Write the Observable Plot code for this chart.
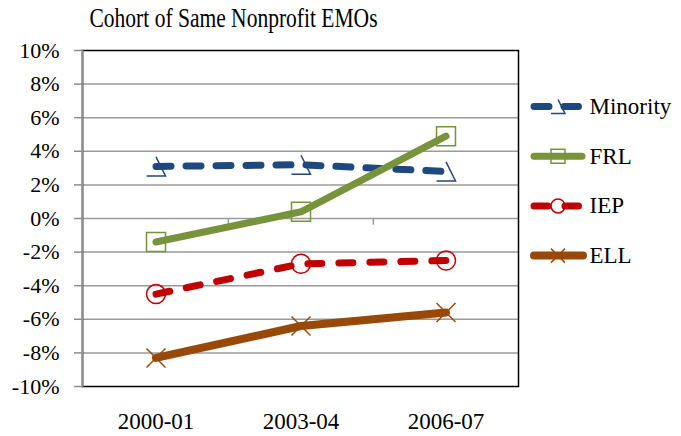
<!DOCTYPE html>
<html><head><meta charset="utf-8">
<script src="https://cdn.jsdelivr.net/npm/d3@7"></script>
<script src="https://cdn.jsdelivr.net/npm/@observablehq/plot@0.6"></script>
<style>html,body{margin:0;padding:0;background:#fff}</style>
</head><body><div id="chart"></div>
<script>
const title = "Cohort of Same Nonprofit EMOs";
const categories = ["2000-01", "2003-04", "2006-07"];
const seriesNames = ["Minority", "FRL", "IEP", "ELL"];
const minority = [3.1, 3.2, 2.8];
const frl = [-1.4, 0.4, 4.9];
const iep = [-4.5, -2.7, -2.5];
const ell = [-8.3, -6.4, -5.6];
const yTicks = [-10, -8, -6, -4, -2, 0, 2, 4, 6, 8, 10];
const colors = ["#1F497D", "#77933C", "#C00000", "#984807"];
const dashes = ["15,15", null, "14,17", null];
const lineWidths = [7, 7, 7, 8];

// pick the first installed Times-like serif face
function pickFont(cands) {
  const ctx = document.createElement("canvas").getContext("2d");
  const probe = "Cohort mmmwwwiiil 2000-01";
  for (const base of ["monospace", "sans-serif"]) {
    ctx.font = `40px ${base}`;
    const w0 = ctx.measureText(probe).width;
    for (const f of cands) {
      ctx.font = `40px "${f}", ${base}`;
      if (Math.abs(ctx.measureText(probe).width - w0) > 0.5) return f;
    }
  }
  return "serif";
}
const serifName = pickFont(["Liberation Serif", "Times New Roman", "Times", "Tinos", "Nimbus Roman", "DejaVu Serif"]);
const serif = `"${serifName}", serif`;

const values = [minority, frl, iep, ell];
const rows = seriesNames.map((s, i) => categories.map((c, j) => ({series: s, cat: c, value: values[i][j]})));

const rad = size => Math.sqrt(size / Math.PI);
const triOpen = {draw(c, size) { const r = rad(size); c.moveTo(0, -r); c.lineTo(r, r); c.lineTo(-r, r); }};
const square = {draw(c, size) { const r = rad(size); c.moveTo(-r, -r); c.lineTo(r, -r); c.lineTo(r, r); c.lineTo(-r, r); c.closePath(); }};
const circle = {draw(c, size) { const r = rad(size); c.moveTo(r, 0); c.arc(0, 0, r, 0, 2 * Math.PI); }};
const cross = {draw(c, size) { const r = rad(size); c.moveTo(-r, -r); c.lineTo(r, r); c.moveTo(r, -r); c.lineTo(-r, r); }};
const symbols = [triOpen, square, circle, cross];
const legLine = (a, b) => ({draw(c) { c.moveTo(a, 0); c.lineTo(b, 0); }});
const legendLines = [legLine(-24, 20.5), legLine(-24, 24), legLine(-24, 20.5), legLine(-24, 25)];

const bw = (681 - 82 - 163) / categories.length;
const marks = [
  Plot.ruleY(yTicks.filter(t => Math.abs(t) < 10), {y: d => d, stroke: "#9a9a9a", strokeWidth: 1.5}),
  Plot.ruleX(categories.slice(1), {x: d => d, y1: 0, y2: -0.4, dx: -bw / 2, stroke: "#9a9a9a", strokeWidth: 1.5}),
  Plot.frame({stroke: "black", strokeWidth: 1.5}),
  Plot.frame({anchor: "left", stroke: "#8c8c8c", strokeWidth: 2}),
  Plot.axisY({ticks: yTicks, tickSize: 8, tickPadding: 15, tickFormat: d => d + "%", label: null, stroke: "#8c8c8c", strokeWidth: 1.5, fill: "black", fontSize: 22}),
  Plot.axisX({tickSize: 0, tickPadding: 26, label: null, fill: "black", fontSize: 23}),
  Plot.text([title], {text: d => d, frameAnchor: "top", dx: -67, dy: -32, fontSize: 28, lineAnchor: "middle", fill: "black"})
];
seriesNames.forEach((s, i) => {
  marks.push(Plot.lineY(rows[i], {x: "cat", y: "value", stroke: colors[i], strokeWidth: lineWidths[i],
    strokeDasharray: dashes[i] ?? undefined, strokeLinecap: "round", strokeLinejoin: "round"}));
});
seriesNames.forEach((s, i) => {
  marks.push(Plot.dot(rows[i], {x: "cat", y: "value", symbol: symbols[i], r: 9.5, stroke: colors[i], fill: "none", strokeWidth: 1.5}));
  const dy = 56 + i * 49.7;
  marks.push(Plot.dot([s], {frameAnchor: "top-right", dx: 39.5, dy, symbol: legendLines[i], r: 1, stroke: colors[i], fill: "none",
    strokeWidth: lineWidths[i], strokeDasharray: dashes[i] ?? undefined, strokeLinecap: "round"}));
  marks.push(Plot.dot([s], {frameAnchor: "top-right", dx: 39.5, dy, symbol: symbols[i], r: 7, stroke: colors[i], fill: "none", strokeWidth: 1.5}));
  marks.push(Plot.text([s], {text: d => d, frameAnchor: "top-right", textAnchor: "start", dx: 71, dy, fontSize: 23, lineAnchor: "middle", fill: "black"}));
});

const chart = Plot.plot({
  width: 681, height: 436,
  marginLeft: 82, marginRight: 163, marginTop: 50, marginBottom: 50,
  style: {fontSize: "22px", background: "white", color: "black"},
  x: {type: "band", domain: categories, padding: 0, axis: null, label: null},
  y: {domain: [-10, 10], axis: null, label: null},
  marks
});
const svg = d3.select(chart);
svg.style("font-family", serif);
svg.selectAll("text, g").style("font-family", serif);
// the reference title is set condensed: fit it to its measured width
svg.selectAll("text").filter(function () { return this.textContent === title; })
  .attr("textLength", 288).attr("lengthAdjust", "spacingAndGlyphs");
document.getElementById("chart").appendChild(chart);
</script>
</body></html>
